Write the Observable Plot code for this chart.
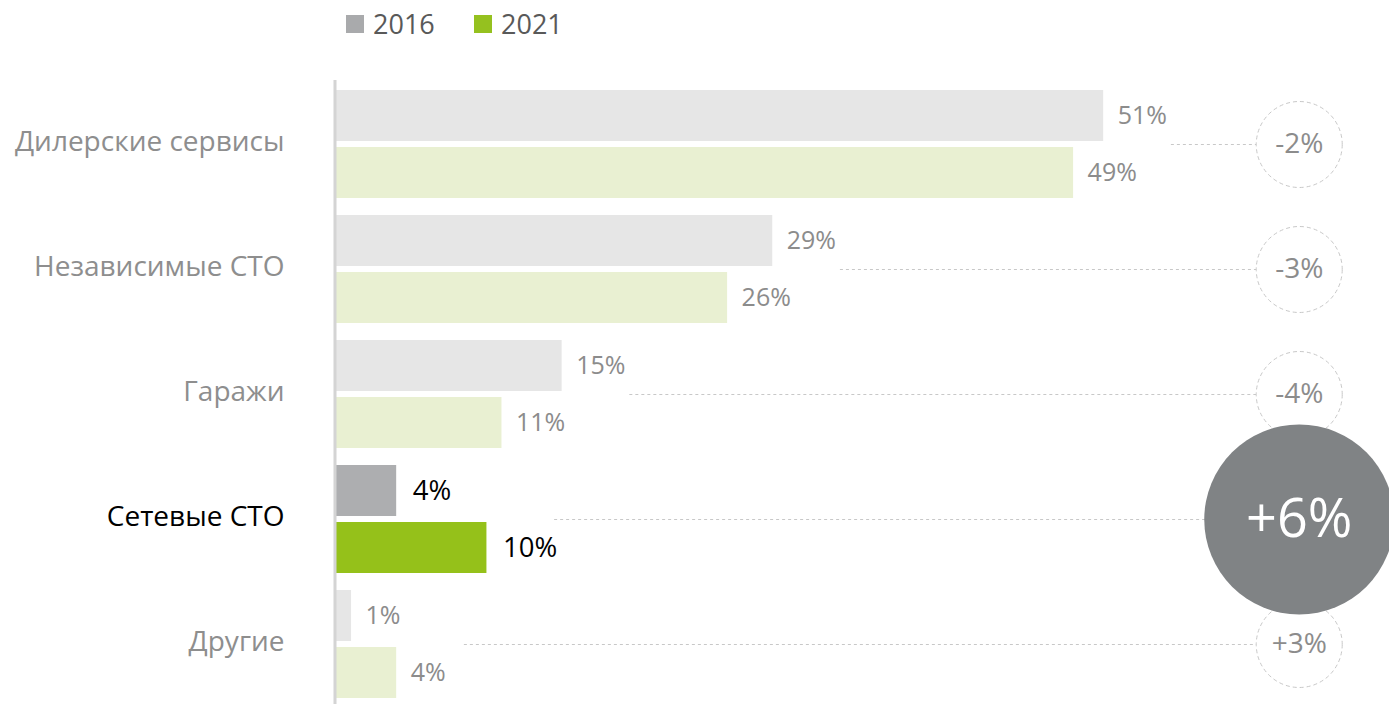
<!DOCTYPE html>
<html><head><meta charset="utf-8">
<script src="https://cdn.jsdelivr.net/npm/d3@7"></script>
<script src="https://cdn.jsdelivr.net/npm/@observablehq/plot@0.6"></script>
<style>
body{margin:0;background:#fff;font-family:"Open Sans",sans-serif;}
#legend{position:relative;height:60px;width:1389px;}
.item{position:absolute;top:5px;display:flex;align-items:center;font-size:27px;line-height:37px;color:#595959;}
.sw{width:18px;height:18px;margin-right:9px;}
#chart svg{display:block;}
</style></head><body>
<div id="legend"></div>
<div id="chart"></div>
<script>
const categories = ["Дилерские сервисы", "Независимые СТО", "Гаражи", "Сетевые СТО", "Другие"];
const years = ["2016", "2021"];
const share2016 = [51, 29, 15, 4, 1];
const share2021 = [49, 26, 11, 10, 4];
const changes = [-2, -3, -4, 6, 3];
const highlighted = "Сетевые СТО";

const legendColors = {"2016": "#a9aaac", "2021": "#95c11f"};
const legendLeft = {"2016": 346, "2021": 474};
const legend = document.getElementById("legend");
years.forEach(y => {
  const it = document.createElement("div");
  it.className = "item";
  it.style.left = legendLeft[y] + "px";
  it.innerHTML = `<span class="sw" style="background:${legendColors[y]}"></span><span>${y}</span>`;
  legend.appendChild(it);
});

const rows = categories.flatMap((c, i) => years.map((yr, j) => ({
  cat: c, year: yr, value: j ? share2021[i] : share2016[i], hi: c === highlighted
})));
const deltas = categories.map((c, i) => ({
  cat: c, change: changes[i], hi: c === highlighted,
  start: Math.max(share2016[i], share2021[i])
}));
const fmtChange = d => (d.change > 0 ? "+" : "") + d.change + "%";
const fillFor = d => d.hi ? (d.year === "2016" ? "#adaeb0" : "#95c11a")
                          : (d.year === "2016" ? "#e6e6e6" : "#e9f0d2");
const circleX = 64;

const r16 = rows.filter(d => d.year === "2016");
const r21 = rows.filter(d => d.year === "2021");

const chart = Plot.plot({
  width: 1389, height: 644,
  marginLeft: 336, marginRight: 0, marginTop: 20, marginBottom: 0,
  style: {fontFamily: "'Open Sans', sans-serif", background: "#fff"},
  x: {domain: [0, 70], axis: null},
  y: {domain: categories, range: [30, 638], paddingInner: 0.136, paddingOuter: 0, axis: null},
  marks: [
    Plot.barX(r16, {x: "value", y: "cat", fill: fillFor, insetBottom: 57}),
    Plot.barX(r21, {x: "value", y: "cat", fill: fillFor, insetTop: 57}),
    Plot.ruleX([0], {stroke: "#d4d4d4", strokeWidth: 3, dx: -1.5}),
    Plot.text(r16.filter(d => !d.hi), {x: "value", y: "cat", dy: -28.5, dx: 14, text: d => d.value + "%", textAnchor: "start", fill: "#8c8c8c", fontSize: 25}),
    Plot.text(r21.filter(d => !d.hi), {x: "value", y: "cat", dy: 28.5, dx: 14, text: d => d.value + "%", textAnchor: "start", fill: "#8c8c8c", fontSize: 25}),
    Plot.text(r16.filter(d => d.hi), {x: "value", y: "cat", dy: -28.5, dx: 16, text: d => d.value + "%", textAnchor: "start", fill: "#000", fontSize: 27.5}),
    Plot.text(r21.filter(d => d.hi), {x: "value", y: "cat", dy: 28.5, dx: 16, text: d => d.value + "%", textAnchor: "start", fill: "#000", fontSize: 27.5}),
    Plot.text(deltas, {y: "cat", frameAnchor: "left", dx: -52, dy: -2, textAnchor: "end", text: "cat", fill: d => d.hi ? "#000" : "#8e8e8e", fontSize: 28}),
    Plot.ruleY(deltas, {y: "cat", x1: d => d.start + 4.5, x2: circleX, stroke: "#c8c8c8", strokeWidth: 1, strokeDasharray: "3,3"}),
    Plot.dot(deltas.filter(d => !d.hi), {x: circleX, y: "cat", r: 43, fill: "#fff", stroke: "#c8c8c8", strokeWidth: 1, strokeDasharray: "4,3"}),
    Plot.text(deltas.filter(d => !d.hi), {x: circleX, y: "cat", text: fmtChange, fill: "#8c8c8c", fontSize: 28}),
    Plot.dot(deltas.filter(d => d.hi), {x: circleX, y: "cat", r: 95, fill: "#808385"}),
    Plot.text(deltas.filter(d => d.hi), {x: circleX, y: "cat", text: fmtChange, fill: "#fff", fontSize: 54})
  ]
});
document.getElementById("chart").appendChild(chart);
</script>
</body></html>
